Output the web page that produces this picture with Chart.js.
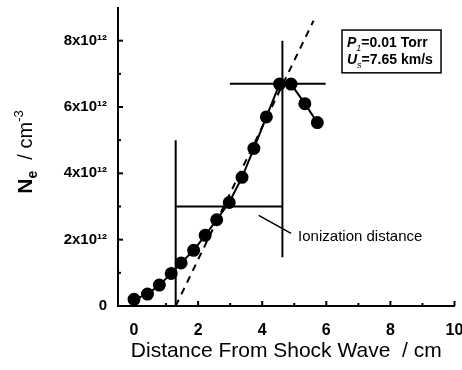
<!DOCTYPE html>
<html>
<head>
<meta charset="utf-8">
<script src="https://cdn.jsdelivr.net/npm/chart.js@4.4.0/dist/chart.umd.min.js"></script>
<style>
  html, body { margin: 0; padding: 0; background: #fff; }
</style>
</head>
<body>
<canvas id="mainChart" width="462" height="370"></canvas>
<script>
// distance from shock wave (cm)
const distance = [0, 0.42, 0.79, 1.16, 1.47, 1.86, 2.22, 2.58, 2.97, 3.37, 3.74, 4.13, 4.54, 4.9, 5.33, 5.72];
// electron density, in units of 10^12 cm^-3
const density = [0.2, 0.36, 0.63, 0.98, 1.3, 1.68, 2.13, 2.6, 3.12, 3.88, 4.75, 5.7, 6.69, 6.69, 6.1, 5.53];

// construction lines [x, y]
const fitLine = [[1.3, 0], [5.6, 8.6]];
const startLine = [[1.3, 0], [1.3, 5.0]];
const peakLine = [[4.63, 1.47], [4.63, 8.0]];
const halfLevel = [[1.3, 3.0], [4.63, 3.0]];
const peakLevel = [[2.99, 6.7], [5.98, 6.7]];
const pointerLine = [[3.89, 2.73], [4.9, 2.19]];

// ticks
const xTicks = [0, 2, 4, 6, 8, 10];
const xMinor = [1, 3, 5, 7, 9];
const yTicks = [0, 2, 4, 6, 8];
const yMinor = [1, 3, 5, 7];

const FONT = '"Liberation Sans", Arial, Helvetica, sans-serif';

function seg(pts, width, dash) {
  return {
    data: pts.map(p => ({ x: p[0], y: p[1] })),
    borderColor: '#000',
    borderWidth: width,
    borderDash: dash || [],
    pointRadius: 0,
    fill: false
  };
}

// === ticks pointing inward ===
const innerTicks = {
  id: 'innerTicks',
  afterDraw(chart) {
    const { ctx, scales: { x, y } } = chart;
    ctx.save();
    ctx.strokeStyle = '#000';
    ctx.lineWidth = 2;
    xTicks.concat(xMinor).forEach(v => {
      const len = xTicks.includes(v) ? 5 : 3;
      const px = x.getPixelForValue(v);
      ctx.beginPath();
      ctx.moveTo(px, y.bottom);
      ctx.lineTo(px, y.bottom - len);
      ctx.stroke();
    });
    yTicks.concat(yMinor).forEach(v => {
      const len = yTicks.includes(v) ? 5 : 3;
      const py = y.getPixelForValue(v);
      ctx.beginPath();
      ctx.moveTo(x.left, py);
      ctx.lineTo(x.left + len, py);
      ctx.stroke();
    });
    ctx.restore();
  }
};

// === texts: y title, label, parameter box ===
const extraText = {
  id: 'extraText',
  afterDraw(chart) {
    const { ctx, scales: { x, y } } = chart;
    ctx.save();
    ctx.fillStyle = '#000';
    ctx.strokeStyle = '#000';

    // y axis title  N_e / cm^-3
    ctx.save();
    ctx.translate(32, 152);
    ctx.rotate(-Math.PI / 2);
    ctx.textBaseline = 'alphabetic';
    const parts = [
      ['N', 'bold 21px ' + FONT, 0],
      ['e', 'bold 14px ' + FONT, 5],
      ['  / cm', '20px ' + FONT, 0],
      ['-3', '13px ' + FONT, -9]
    ];
    let total = 0;
    parts.forEach(p => { ctx.font = p[1]; total += ctx.measureText(p[0]).width; });
    let cx = -total / 2;
    parts.forEach(p => {
      ctx.font = p[1];
      ctx.fillText(p[0], cx, p[2]);
      cx += ctx.measureText(p[0]).width;
    });
    ctx.restore();

    // label
    ctx.font = '15px ' + FONT;
    ctx.textBaseline = 'middle';
    ctx.textAlign = 'left';
    ctx.fillText('Ionization distance', x.getPixelForValue(5.12), y.getPixelForValue(2.07));

    // parameter box
    const bx0 = x.getPixelForValue(6.49), bx1 = x.getPixelForValue(9.58);
    const by0 = y.getPixelForValue(8.32), by1 = y.getPixelForValue(7.03);
    ctx.lineWidth = 1.5;
    ctx.strokeRect(bx0, by0, bx1 - bx0, by1 - by0);
    const lines = [
      [['P', 'italic bold 14px ' + FONT, 0], ['1', 'italic 9px ' + FONT, 4], ['=0.01 Torr', 'bold 14px ' + FONT, 0]],
      [['U', 'italic bold 14px ' + FONT, 0], ['s', 'italic 9px ' + FONT, 4], ['=7.65 km/s', 'bold 14px ' + FONT, 0]]
    ];
    ctx.textBaseline = 'alphabetic';
    lines.forEach((line, i) => {
      let lx = bx0 + 5;
      const ly = by0 + 17 + i * 17;
      line.forEach(p => {
        ctx.font = p[1];
        ctx.fillText(p[0], lx, ly + p[2]);
        lx += ctx.measureText(p[0]).width;
      });
    });
    ctx.restore();
  }
};

const ctx = document.getElementById('mainChart').getContext('2d');
new Chart(ctx, {
  type: 'line',
  data: {
    datasets: [
      {
        data: distance.map((d, i) => ({ x: d, y: density[i] })),
        borderColor: '#000',
        borderWidth: 2,
        pointRadius: 5.5,
        pointBackgroundColor: '#000',
        pointBorderColor: '#000',
        fill: false
      },
      seg(fitLine, 2, [7, 6]),
      seg(startLine, 2),
      seg(peakLine, 2),
      seg(halfLevel, 2),
      seg(peakLevel, 2),
      seg(pointerLine, 1.5)
    ]
  },
  options: {
    responsive: false,
    animation: false,
    devicePixelRatio: 1,
    layout: { padding: { top: 5, right: 6, left: 0, bottom: 0 } },
    plugins: { legend: { display: false }, tooltip: { enabled: false } },
    scales: {
      x: {
        type: 'linear',
        min: -0.5,
        max: 10,
        grid: { display: false },
        border: { display: true, color: '#000', width: 2 },
        ticks: { color: '#000', font: { family: FONT, size: 16, weight: 'bold' }, padding: 7 },
        afterBuildTicks: s => { s.ticks = xTicks.map(v => ({ value: v })); },
        afterFit: s => { s.height = 64; s.paddingLeft = 0; s.paddingRight = 0; },
        title: {
          display: true,
          text: 'Distance From Shock Wave  / cm',
          color: '#000',
          font: { family: FONT, size: 21 },
          padding: { top: 0, bottom: 6 }
        }
      },
      y: {
        type: 'linear',
        min: 0,
        max: 9,
        grid: { display: false },
        border: { display: true, color: '#000', width: 2 },
        ticks: {
          color: '#000',
          font: { family: FONT, size: 15, weight: 'bold' },
          padding: 3,
          callback: v => (v === 0 ? '0' : v + 'x10\u00B9\u00B2')
        },
        afterBuildTicks: s => { s.ticks = yTicks.map(v => ({ value: v })); },
        afterFit: s => { s.width = 118; s.paddingTop = 0; s.paddingBottom = 0; }
      }
    }
  },
  plugins: [innerTicks, extraText]
});
</script>
</body>
</html>
